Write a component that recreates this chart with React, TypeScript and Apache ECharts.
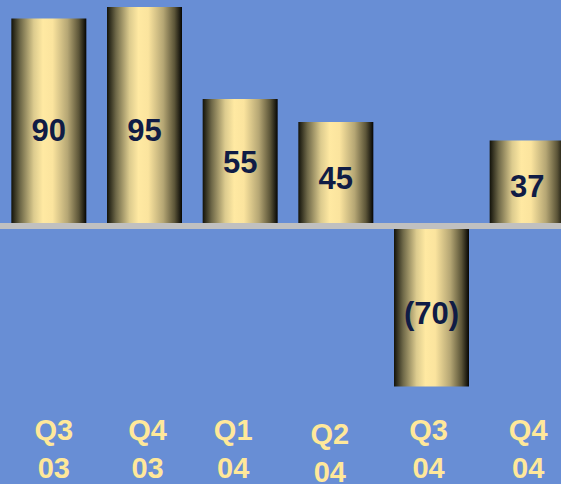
import React, { useEffect, useRef } from "react";
import * as echarts from "echarts";

const categories = ["Q3\n03", "Q4\n03", "Q1\n04", "Q2\n04", "Q3\n04", "Q4\n04"];
const values = [90, 95, 55, 45, -70, 37];

// small visual nudges (px) matching the reference's hand-placed labels
const catLabelDx = [5, 3, -7, -6, -3, 1];
const catLabelDy = [0, 0, 0, 4, 0, 0];
const barLabelDy = [8, 14, 0, 5, 7, 4];

const barGradient = new echarts.graphic.LinearGradient(0, 0, 1, 0, [
  { offset: 0, color: "#12120a" },
  { offset: 0.12, color: "#6e6848" },
  { offset: 0.3, color: "#dccb8e" },
  { offset: 0.42, color: "#ffe9a2" },
  { offset: 0.55, color: "#fbe49e" },
  { offset: 0.75, color: "#b5a674" },
  { offset: 0.9, color: "#5c5538" },
  { offset: 1, color: "#050503" },
]);

export default function App() {
  const ref = useRef<HTMLDivElement>(null);
  useEffect(() => {
    if (!ref.current) return;
    const chart = echarts.init(ref.current, undefined, { renderer: "svg" });
    chart.setOption({
      animation: false,
      backgroundColor: "#688ed5",
      grid: {
        left: 1,
        top: -4.5,
        width: 574,
        height: 460,
        containLabel: false,
        outerBoundsMode: "none",
      },
      xAxis: {
        type: "category",
        z: 5,
        data: categories.map((c, i) => {
          const dx = catLabelDx[i];
          return {
            value: c,
            textStyle: {
              padding: [catLabelDy[i], dx < 0 ? -2 * dx : 0, 0, dx > 0 ? 2 * dx : 0],
            },
          };
        }),
        axisLine: { onZero: true, lineStyle: { color: "#c0c0c0", width: 6 } },
        axisTick: { show: false },
        axisLabel: {
          margin: -45,
          color: "#ffe89a",
          fontSize: 29,
          fontWeight: "bold",
          lineHeight: 38,
          fontFamily: "Liberation Sans, Arial, sans-serif",
        },
      },
      yAxis: {
        type: "value",
        min: -100,
        max: 100,
        show: false,
        splitLine: { show: false },
      },
      series: [
        {
          type: "bar",
          barWidth: 75,
          data: values.map((v, i) => ({
            value: v,
            label: { offset: [0, barLabelDy[i]] },
          })),
          itemStyle: { color: barGradient },
          label: {
            show: true,
            position: "inside",
            color: "#101c45",
            fontSize: 31,
            fontWeight: "bold",
            fontFamily: "Liberation Sans, Arial, sans-serif",
            formatter: (p: any) => (p.value < 0 ? `(${-p.value})` : `${p.value}`),
          },
        },
      ],
    });
    return () => chart.dispose();
  }, []);
  return (
    <div
      ref={ref}
      style={{ position: "absolute", left: 0, top: 0, width: 561, height: 484 }}
    />
  );
}
